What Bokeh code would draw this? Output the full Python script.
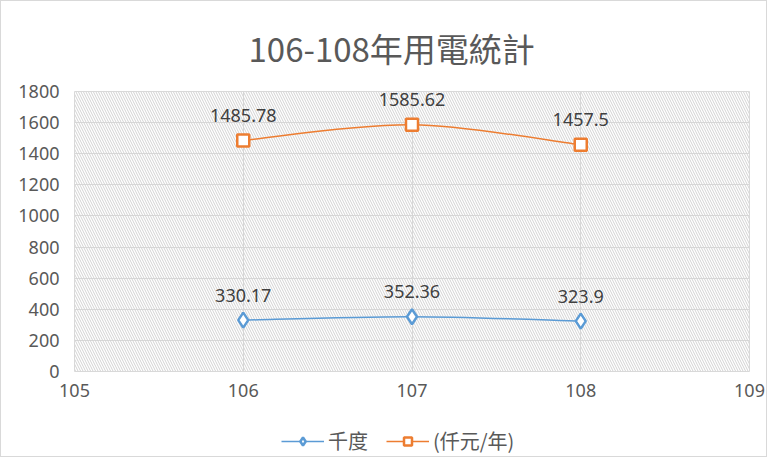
from bokeh.plotting import figure
from bokeh.layouts import column
from bokeh.models import (ColumnDataSource, BoxAnnotation, Legend, LegendItem,
                          FixedTicker, Range1d)
from bokeh.core.properties import value
from bokeh.embed import file_html
from bokeh.resources import INLINE

# ---- data ----
years = [106, 107, 108]
kwh = [330.17, 352.36, 323.9]          # 千度
cost = [1485.78, 1585.62, 1457.5]      # (仟元/年)
series_names = ["千度", "(仟元/年)"]
title_text = "106-108年用電統計"
x_ticks = [105, 106, 107, 108, 109]
y_ticks = [0, 200, 400, 600, 800, 1000, 1200, 1400, 1600, 1800]

BLUE = "#5b9bd5"
ORANGE = "#ed7d31"
TXT = "#595959"
FONT = "Noto Sans CJK TC"
NUMFONT = "Noto Sans"

p = figure(width=765, height=405, output_backend="svg", toolbar_location=None,
           x_range=Range1d(105, 109), y_range=Range1d(0, 1800),
           min_border_left=73, min_border_right=17, min_border_top=89,
           min_border_bottom=35)

p.title.text = title_text
p.title.align = "left"
p.title.text_font = FONT
p.title.text_font_size = "33px"
p.title.text_font_style = "normal"
p.title.text_color = TXT
p.title.offset = 174
p.title.standoff = 40

p.background_fill_color = "white"
p.border_fill_color = "white"
p.outline_line_color = "#d9d9d9"
p.outline_line_width = 1

# hatched plot area
p.add_layout(BoxAnnotation(fill_alpha=0, line_alpha=0, hatch_pattern="\\",
                           hatch_color="#d2d2d2", hatch_scale=5, hatch_weight=1,
                           hatch_alpha=1.0, level="underlay"))

# axes
for ax in (p.xaxis[0], p.yaxis[0]):
    ax.axis_line_color = None
    ax.major_tick_line_color = None
    ax.minor_tick_line_color = None
    ax.major_label_text_font = NUMFONT
    ax.major_label_text_font_size = "18px"
    ax.major_label_text_color = TXT
p.xaxis.ticker = FixedTicker(ticks=x_ticks)
p.yaxis.ticker = FixedTicker(ticks=y_ticks)
p.xaxis.major_label_standoff = 6
p.yaxis.major_label_standoff = 9

p.xgrid.ticker = FixedTicker(ticks=x_ticks)
p.ygrid.ticker = FixedTicker(ticks=y_ticks)
p.xgrid.grid_line_color = "#d9d9d9"
p.ygrid.grid_line_color = "#d9d9d9"
p.xgrid.level = "underlay"
p.ygrid.level = "underlay"


def smooth(xs, ys):
    n = len(xs)
    x0, y0, x1, y1, cx0, cy0, cx1, cy1 = [], [], [], [], [], [], [], []
    for i in range(n - 1):
        im = max(i - 1, 0)
        ip = min(i + 2, n - 1)
        x0.append(xs[i]); y0.append(ys[i])
        x1.append(xs[i + 1]); y1.append(ys[i + 1])
        cx0.append(xs[i] + (xs[i + 1] - xs[im]) / 6)
        cy0.append(ys[i] + (ys[i + 1] - ys[im]) / 6)
        cx1.append(xs[i + 1] - (xs[ip] - xs[i]) / 6)
        cy1.append(ys[i + 1] - (ys[ip] - ys[i]) / 6)
    return dict(x0=x0, y0=y0, x1=x1, y1=y1, cx0=cx0, cy0=cy0, cx1=cx1, cy1=cy1)


# legend strip (separate figure below the chart)
lg = figure(width=765, height=50, output_backend="svg", toolbar_location=None,
            x_range=Range1d(0, 1), y_range=Range1d(0, 1),
            x_axis_location=None, y_axis_location=None,
            min_border=0, min_border_left=0, min_border_right=0,
            min_border_top=0, min_border_bottom=0)
lg.grid.visible = False
lg.outline_line_color = None
lg.background_fill_color = "white"
lg.border_fill_color = "white"

items = []
for vals, color, marker, msize, name in [
        (kwh, BLUE, "diamond", 15, series_names[0]),
        (cost, ORANGE, "square", 12, series_names[1])]:
    p.bezier(source=ColumnDataSource(smooth(years, vals)),
             x0="x0", y0="y0", x1="x1", y1="y1", cx0="cx0", cy0="cy0",
             cx1="cx1", cy1="cy1", line_color=color, line_width=1.5)
    src = ColumnDataSource(dict(x=years, y=vals, lab=[str(v) for v in vals]))
    p.scatter("x", "y", source=src, marker=marker, size=msize,
              fill_color="white", line_color=color, line_width=2.5)
    p.text("x", "y", text="lab", source=src, text_align="center",
           text_baseline="alphabetic", y_offset=-25,
           text_font=value(NUMFONT), text_font_size="18px", text_color="#404040")
    # legend proxies (data lies outside the strip's ranges, so nothing shows)
    lsrc = ColumnDataSource(dict(x=years, y=vals))
    lr = lg.line("x", "y", source=lsrc, line_color=color, line_width=1.5)
    ls = lg.scatter("x", "y", source=lsrc, marker=marker, size=msize - 3,
                    fill_color="white", line_color=color, line_width=2.5)
    items.append(LegendItem(label=name, renderers=[lr, ls]))

legend = Legend(items=items, orientation="horizontal", location=(207, 1),
                label_text_font=FONT, label_text_font_size="20px",
                label_text_color=TXT, glyph_width=43, spacing=18,
                border_line_color=None, background_fill_alpha=0,
                label_standoff=4, padding=4, margin=0)
lg.add_layout(legend, "center")

layout = column(p, lg, spacing=0,
                styles={"border": "1px solid #d9d9d9", "box-sizing": "border-box"})

open("out.html", "w").write(file_html(layout, INLINE))
